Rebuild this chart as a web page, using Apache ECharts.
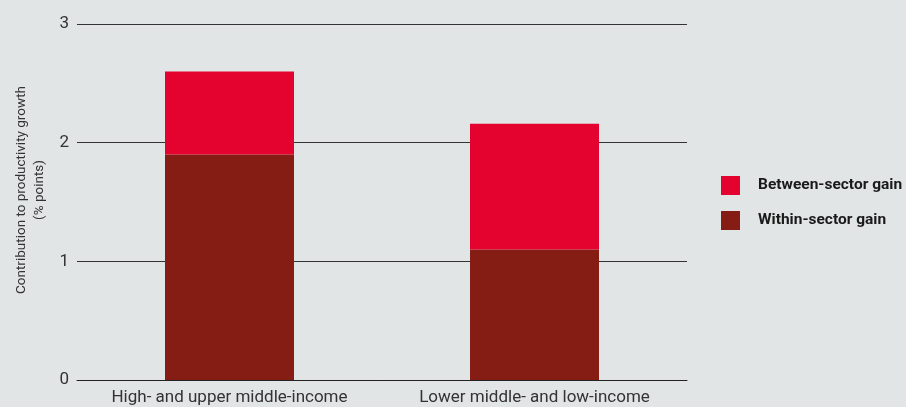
<!DOCTYPE html>
<html><head><meta charset="utf-8">
<script src="https://cdn.jsdelivr.net/npm/echarts@6/dist/echarts.min.js"></script>
<style>html,body{margin:0;padding:0;background:#e1e5e6;}#c{width:906px;height:407px;}</style>
</head><body><div id="c"></div>
<script>
const categories = ['High- and upper middle-income', 'Lower middle- and low-income'];
const withinSector = [1.9, 1.1];
const betweenSector = [0.7, 1.06];
const yTicks = [0, 1, 2, 3];

const FONT = 'Roboto, "Liberation Sans", sans-serif';
const chart = echarts.init(document.getElementById('c'), null, {renderer: 'canvas'});
chart.setOption({
  backgroundColor: '#e1e5e6',
  animation: false,
  grid: {left: 77, right: 219, top: 24, bottom: 27, containLabel: false, outerBoundsMode: 'none'},
  legend: {
    orient: 'vertical', left: 721, top: 176, padding: 0, itemWidth: 19, itemHeight: 19, itemGap: 16,
    data: ['Between-sector gain', 'Within-sector gain'],
    textStyle: {fontFamily: FONT, fontWeight: 'bold', fontSize: 15.5, color: '#1a1a1a', padding: [0, 0, 0, 13]},
    icon: 'rect'
  },
  xAxis: {
    type: 'category', data: categories,
    axisLine: {show: true, lineStyle: {color: '#222', width: 1}},
    axisTick: {show: false},
    axisLabel: {fontFamily: FONT, fontSize: 17, color: '#333', margin: 9, interval: 0}
  },
  yAxis: {
    type: 'value', min: 0, max: 3, interval: 1,
    name: 'Contribution to productivity growth\n(% points)',
    nameLocation: 'middle', nameGap: 28, nameRotate: 90,
    nameTextStyle: {fontFamily: FONT, fontSize: 13.5, color: '#333', lineHeight: 18, padding: [0, 0, 0, 24]},
    axisLine: {show: false}, axisTick: {show: false},
    axisLabel: {fontFamily: FONT, fontSize: 17, color: '#333', margin: 8,
      formatter: v => yTicks.includes(v) ? String(v) : ''},
    splitLine: {show: true, lineStyle: {color: '#333', width: 1}}
  },
  series: [
    {name: 'Within-sector gain', type: 'bar', stack: 'a', data: withinSector, barWidth: 129,
     itemStyle: {color: '#861d15'}},
    {name: 'Between-sector gain', type: 'bar', stack: 'a', data: betweenSector, barWidth: 129,
     itemStyle: {color: '#e4032e'}}
  ]
});
</script></body></html>
